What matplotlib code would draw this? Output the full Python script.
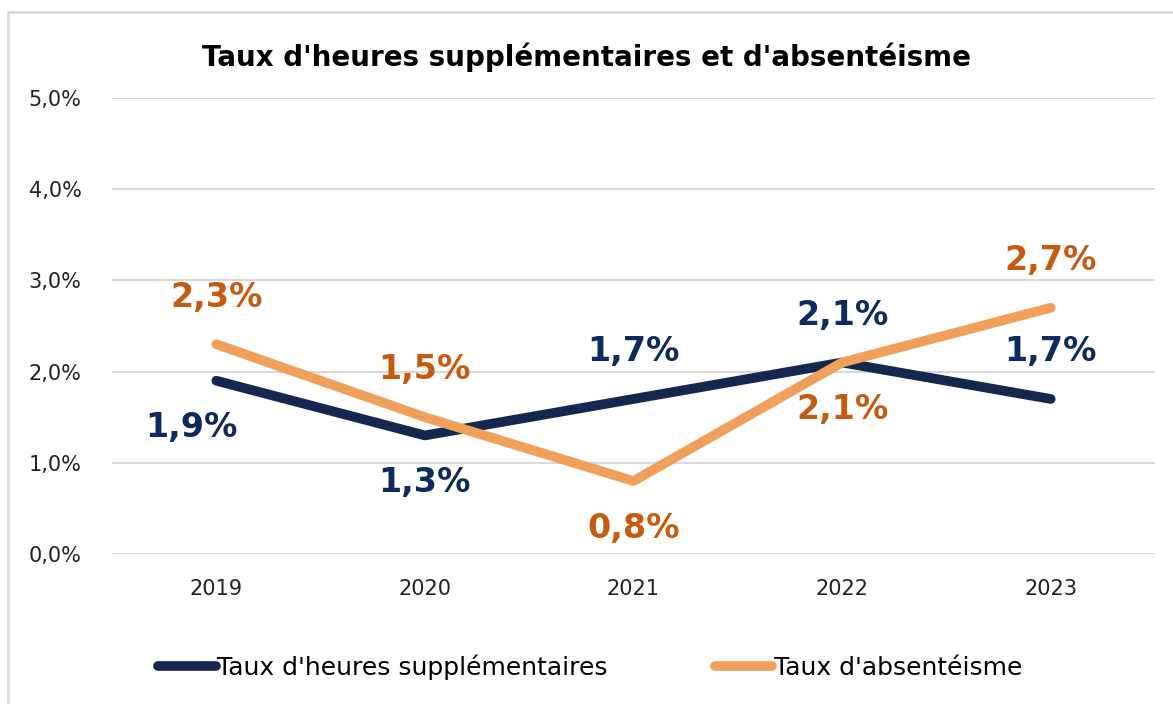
import matplotlib
matplotlib.use("Agg")
import matplotlib.pyplot as plt
from matplotlib.patches import Rectangle

plt.rcParams['font.family'] = ['DejaVu Sans']

# data
years = ["2019", "2020", "2021", "2022", "2023"]
heures_sup = [1.9, 1.3, 1.7, 2.1, 1.7]
absenteisme = [2.3, 1.5, 0.8, 2.1, 2.7]
# label side: 1 above, -1 below
pos_heures = [-1, -1, 1, 1, 1]
pos_abs = [1, 1, -1, -1, 1]

navy = "#14284F"
navy_lbl = "#0F2A5E"
orange = "#F0A05A"
orange_lbl = "#C55A11"

fig = plt.figure(figsize=(11.73, 7.04), dpi=100)
ax = fig.add_axes([112/1173, 1-554/704, (1155-112)/1173, (554-98)/704])

x = range(len(years))
ax.plot(x, heures_sup, color=navy, lw=7, solid_capstyle='round', solid_joinstyle='round',
        label="Taux d'heures supplémentaires", zorder=3)
ax.plot(x, absenteisme, color=orange, lw=7, solid_capstyle='round', solid_joinstyle='round',
        label="Taux d'absentéisme", zorder=4)

def fmt(v):
    return f"{v:.1f}%".replace(".", ",")

for i, v in enumerate(heures_sup):
    dx = -18 if i == 0 else 0
    ax.annotate(fmt(v), (i, v), xytext=(dx, 34*pos_heures[i]), textcoords='offset points',
                ha='center', va='center', fontsize=24, fontweight='bold', color=navy_lbl, zorder=5)
for i, v in enumerate(absenteisme):
    ax.annotate(fmt(v), (i, v), xytext=(0, 34*pos_abs[i]), textcoords='offset points',
                ha='center', va='center', fontsize=24, fontweight='bold', color=orange_lbl, zorder=5)

ax.set_xlim(-0.5, 4.5)
ax.set_ylim(0, 5)
ax.set_xticks(list(x))
ax.set_xticklabels(years, fontsize=15, color="#222222")
ax.set_yticks([0, 1, 2, 3, 4, 5])
ax.set_yticklabels([fmt(t) for t in [0, 1, 2, 3, 4, 5]], fontsize=15, color="#222222")
ax.tick_params(length=0, pad=18)
ax.tick_params(axis='y', pad=22)
ax.grid(axis='y', color="#D9D9D9", lw=1.5)
ax.set_axisbelow(True)
for s in ax.spines.values():
    s.set_visible(False)

fig.text(0.5, 1-57/704, "Taux d'heures supplémentaires et d'absentéisme", ha='center', va='center',
         fontsize=20, fontweight='bold', color='black')

fig.legend(loc='center', bbox_to_anchor=(0.503, 1-667/704), ncol=2, frameon=False, fontsize=18,
           handlelength=2.3, handletextpad=0.05, columnspacing=4.3)

fig.patches.append(Rectangle((8/1173, -0.05), 1.2, 1-12/704+0.05, transform=fig.transFigure,
                             fill=False, edgecolor="#D9D9D9", lw=2))

fig.savefig("out.png", dpi=100)
